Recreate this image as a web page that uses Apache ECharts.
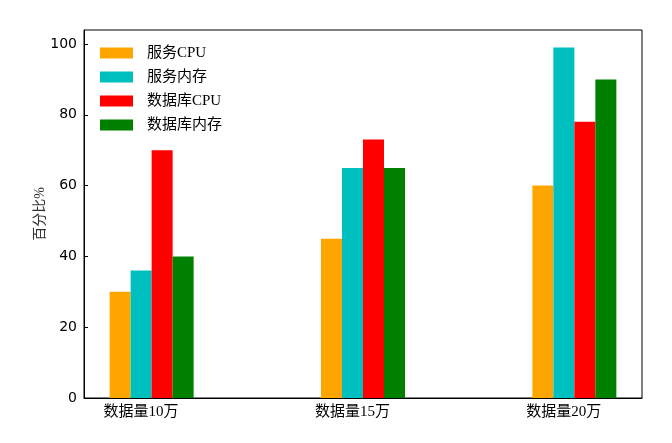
<!DOCTYPE html>
<html>
<head>
<meta charset="utf-8">
<script src="https://cdn.jsdelivr.net/npm/echarts@6/dist/echarts.min.js"></script>
<style>
	html, body { margin: 0; padding: 0; background: #fff; }
	#main { width: 672px; height: 443px; }
</style>
</head>
<body>
<div id="main"></div>
<script>
	// 类别和数据
	var categories = ['数据量10万', '数据量15万', '数据量20万'];
	var seriesNames = ['服务CPU', '服务内存', '数据库CPU', '数据库内存'];
	var serviceCpu = [30, 45, 60];
	var serviceMem = [36, 65, 99];
	var dbCpu = [70, 73, 78];
	var dbMem = [40, 65, 90];
	var yTicks = [0, 20, 40, 60, 80, 100];
	var colors = ['#FFA500', '#00BFBF', '#FF0000', '#008000'];

	var allData = [serviceCpu, serviceMem, dbCpu, dbMem];
	var tickPos = categories.map(function(c, i) { return i; });

	var _series = [];
	for (var k = 0; k < seriesNames.length; k++) {
		_series.push({
			name: seriesNames[k],
			type: 'bar',
			barWidth: 21,
			barGap: '0%',
			itemStyle: { color: colors[k] },
			// 每组柱子相对刻度偏移半个柱宽
			data: allData[k].map(function(v, i) { return [i + 0.05, v]; })
		});
	}

	var myChart = echarts.init(document.getElementById('main'));
	var cnFont = '"Liberation Serif", "Noto Sans CJK SC", serif';

	var option = {
		animation: false,
		color: colors,
		legend: {
			orient: 'vertical',
			left: 95,
			top: 40,
			itemWidth: 33,
			itemHeight: 11,
			itemGap: 8,
			icon: 'rect',
			data: seriesNames,
			textStyle: {
				fontFamily: cnFont,
				fontSize: 15,
				lineHeight: 16,
				color: '#000',
				padding: [0, 0, 0, 9]
			}
		},
		grid: {
			left: 84,
			right: 30,
			top: 30,
			bottom: 45,
			show: true,
			borderColor: '#000',
			borderWidth: 1
		},
		xAxis: {
			type: 'value',
			min: -0.27,
			max: 2.37,
			splitLine: { show: false },
			axisLine: { onZero: false, lineStyle: { color: '#000', width: 1 } },
			axisTick: {
				inside: true,
				length: 4,
				customValues: tickPos,
				lineStyle: { color: '#000' }
			},
			axisLabel: {
				customValues: tickPos,
				margin: 7,
				fontFamily: cnFont,
				fontSize: 15,
				color: '#000',
				formatter: function(v) { return categories[Math.round(v)]; }
			}
		},
		yAxis: {
			type: 'value',
			min: 0,
			max: 103.95,
			interval: 20,
			name: '百分比%',
			nameLocation: 'middle',
			nameGap: 37,
			nameMoveOverlap: false,
			nameTextStyle: {
				fontFamily: cnFont,
				fontSize: 14,
				color: '#333'
			},
			splitLine: { show: false },
			axisLine: { show: true, onZero: false, lineStyle: { color: '#000', width: 1 } },
			axisTick: {
				inside: true,
				length: 4,
				lineStyle: { color: '#000' }
			},
			axisLabel: {
				showMaxLabel: false,
				margin: 7,
				fontFamily: '"DejaVu Sans", sans-serif',
				fontSize: 14,
				color: '#000',
				formatter: function(v) { return yTicks.indexOf(v) >= 0 ? String(v) : ''; }
			}
		},
		series: _series
	};

	myChart.setOption(option);
</script>
</body>
</html>
